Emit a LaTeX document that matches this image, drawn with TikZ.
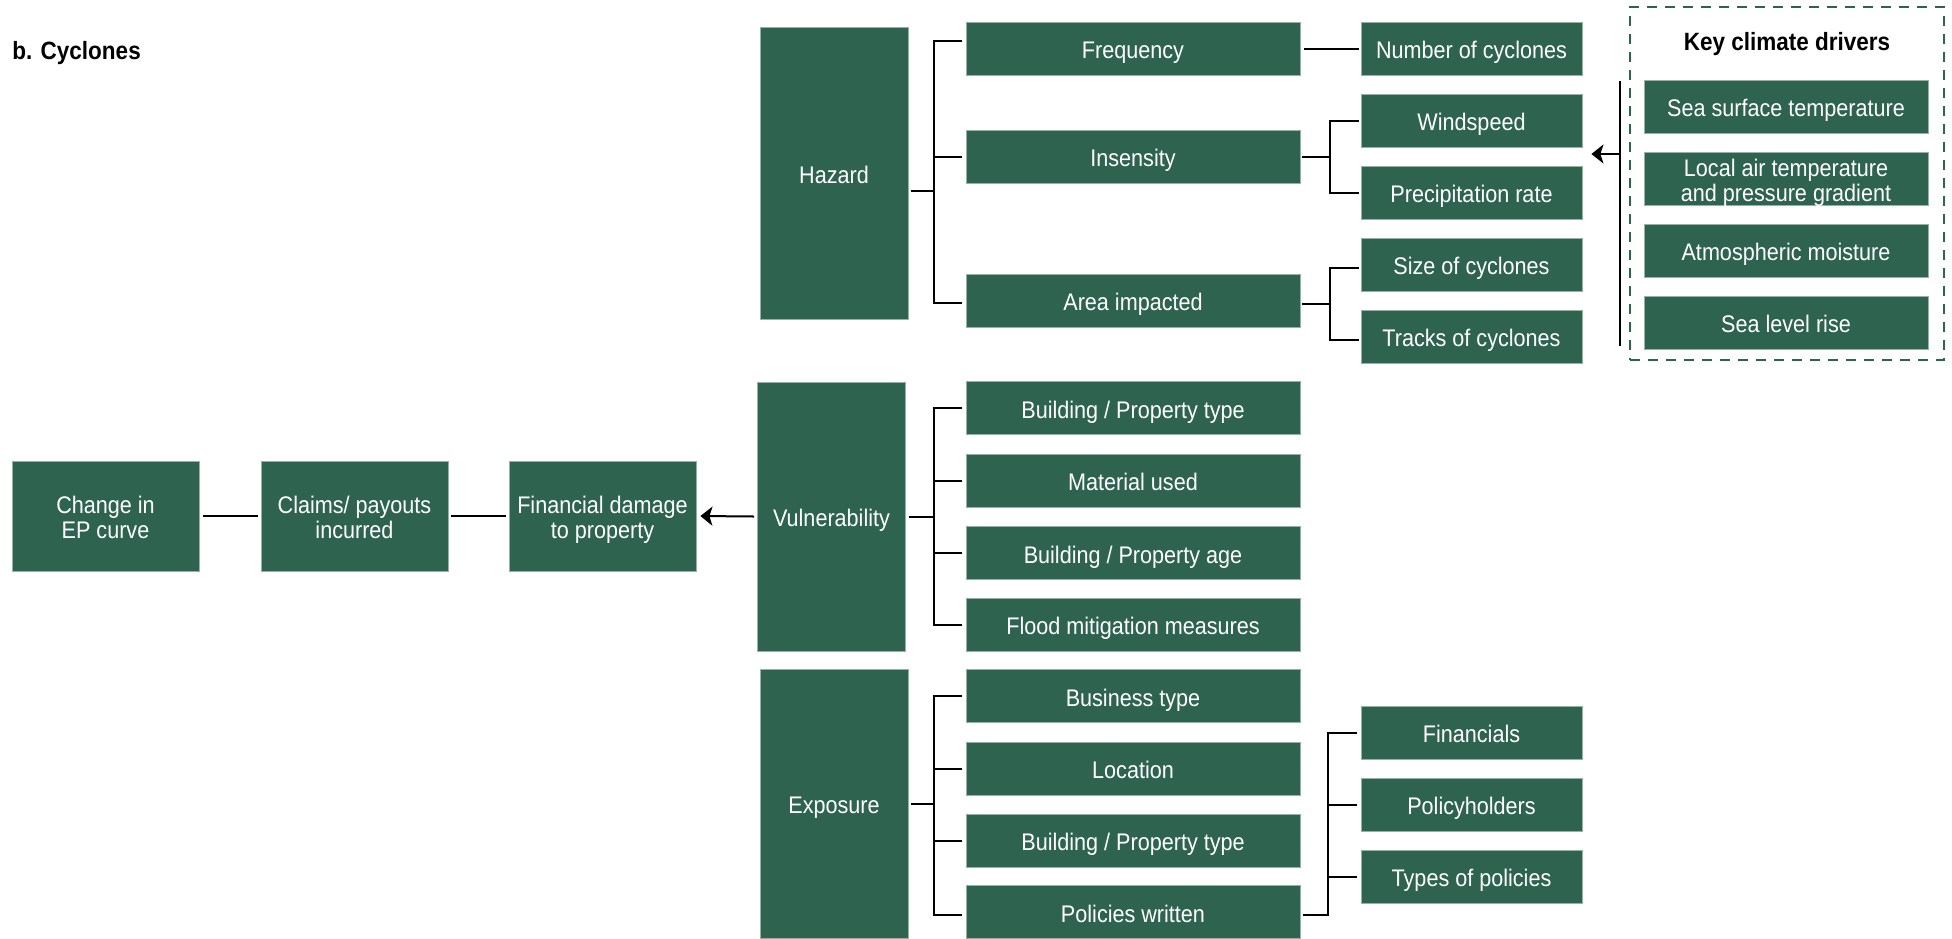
\documentclass[tikz,border=0pt]{standalone}
\usepackage{fontspec}
\setmainfont{Liberation Sans}[FakeStretch=0.9]
\usetikzlibrary{calc,arrows.meta}
\definecolor{boxgreen}{RGB}{46,99,80}
\definecolor{boxedge}{RGB}{150,178,164}
\begin{document}
\begin{tikzpicture}[x=0.5pt,y=-0.5pt,
  box/.style={fill=boxgreen, draw=boxedge, line width=0.4pt, text=white, font=\fontsize{12}{12.4}\selectfont, align=center, inner sep=0pt, minimum height=26.5pt, text height=10pt, text depth=0pt},
  twoline/.style={text height=22.2pt, text depth=0pt},
  lvtwo/.style={box, minimum width=167pt},
  lvthree/.style={box, minimum width=110.5pt},
  drv/.style={box, minimum width=142pt},
  big/.style={box, minimum width=74pt},
  chain/.style={box, twoline, minimum width=93.5pt, minimum height=55pt},
  conn/.style={draw=black, line width=1pt},
  arr/.style={conn, -{Stealth[length=6pt,width=9.5pt,inset=1.5pt]}},
  ttl/.style={font=\bfseries\fontsize{12.5}{14}\selectfont, inner sep=0pt, text height=9pt, text depth=0pt}
]
\useasboundingbox (0,0) rectangle (1952,938);

% title
\node[ttl, anchor=west] (title) at (12,50) {b. Cyclones};

% hazard branch
\node[big, minimum height=146pt] (hazard) at (834,173) {Hazard};
\node[lvtwo] (freq) at (1133,48.5) {Frequency};
\node[lvthree] (ncyc) at (1471.5,48.5) {Number of cyclones};
\node[lvtwo] (ins) at (1133,156.5) {Insensity};
\node[lvthree] (wind) at (1471.5,120.5) {Windspeed};
\node[lvthree] (prec) at (1471.5,192.5) {Precipitation rate};
\node[lvtwo] (area) at (1133,300.5) {Area impacted};
\node[lvthree] (sizec) at (1471.5,264.5) {Size of cyclones};
\node[lvthree] (tracks) at (1471.5,336.5) {Tracks of cyclones};

\draw[conn] ($(hazard.east)+(3,18)$) -| ($(freq.west)+(-32,-7.5)$) -- ($(freq.west)+(-4,-7.5)$);
\draw[conn] ($(hazard.east)+(3,18)$) -| ($(area.west)+(-32,2.5)$) -- ($(area.west)+(-4,2.5)$);
\draw[conn] ($(ins.west)+(-32,0)$) -- ($(ins.west)+(-4,0)$);
\draw[conn] ($(freq.east)+(4,0)$) -- ($(ncyc.west)+(-2,0)$);
\draw[conn] ($(ins.east)+(2,0)$) -| ($(wind.west)+(-31,0)$) -- ($(wind.west)+(-2,0)$);
\draw[conn] ($(ins.east)+(2,0)$) -| ($(prec.west)+(-31,0)$) -- ($(prec.west)+(-2,0)$);
\draw[conn] ($(area.east)+(2,3)$) -| ($(sizec.west)+(-31,3)$) -- ($(sizec.west)+(-2,3)$);
\draw[conn] ($(area.east)+(2,3)$) -| ($(tracks.west)+(-31,3)$) -- ($(tracks.west)+(-2,3)$);

% key climate drivers
\node[draw=boxgreen, dash pattern=on 5pt off 4pt, line width=1pt, minimum width=157pt, minimum height=176.5pt, inner sep=0pt] (kframe) at (1787,183.5) {};
\node[ttl] (ktitle) at (1787,41) {Key climate drivers};
\node[drv] (d1) at (1786,106.5) {Sea surface temperature};
\node[drv, twoline] (d2) at (1786,179) {Local air temperature\\and pressure gradient};
\node[drv] (d3) at (1786,250.5) {Atmospheric moisture};
\node[drv] (d4) at (1786,322.5) {Sea level rise};
\coordinate (dtop) at (1620,81);
\coordinate (dbot) at (1620,346);
\coordinate (dmid) at (1620,154);
\draw[conn] (dtop) -- (dbot);
\draw[arr] (dmid) -- ($(wind.east |- dmid)+(9,0)$);

% left chain
\node[chain] (ep) at (105.5,516) {Change in\\EP curve};
\node[chain] (claims) at (354.5,516) {Claims/ payouts\\incurred};
\node[chain] (fin) at (602.5,516) {Financial damage\\to property};
\draw[conn] ($(ep.east)+(4,0)$) -- ($(claims.west)+(-3,0)$);
\draw[conn] ($(claims.east)+(3,0)$) -- ($(fin.west)+(-3,0)$);

% vulnerability branch
\node[big, minimum height=134.5pt] (vuln) at (831.5,516.5) {Vulnerability};
\draw[arr] ($(vuln.west)+(-3,0)$) -- ($(fin.east)+(4,0)$);
\node[lvtwo] (v1) at (1133,408) {Building / Property type};
\node[lvtwo] (v2) at (1133,480.5) {Material used};
\node[lvtwo] (v3) at (1133,553) {Building / Property age};
\node[lvtwo] (v4) at (1133,624.5) {Flood mitigation measures};
\draw[conn] ($(vuln.east)+(3,0)$) -| ($(v1.west)+(-32,0)$) -- ($(v1.west)+(-4,0)$);
\draw[conn] ($(vuln.east)+(3,0)$) -| ($(v4.west)+(-32,0)$) -- ($(v4.west)+(-4,0)$);
\draw[conn] ($(v2.west)+(-32,0)$) -- ($(v2.west)+(-4,0)$);
\draw[conn] ($(v3.west)+(-32,0)$) -- ($(v3.west)+(-4,0)$);

% exposure branch
\node[big, minimum height=134.5pt] (expo) at (834,803.5) {Exposure};
\node[lvtwo] (e1) at (1133,696) {Business type};
\node[lvtwo] (e2) at (1133,768.5) {Location};
\node[lvtwo] (e3) at (1133,840.5) {Building / Property type};
\node[lvtwo] (e4) at (1133,912) {Policies written};
\draw[conn] ($(expo.east)+(3,0)$) -| ($(e1.west)+(-32,0)$) -- ($(e1.west)+(-4,0)$);
\draw[conn] ($(expo.east)+(3,0)$) -| ($(e4.west)+(-32,3)$) -- ($(e4.west)+(-4,3)$);
\draw[conn] ($(e2.west)+(-32,0)$) -- ($(e2.west)+(-4,0)$);
\draw[conn] ($(e3.west)+(-32,0)$) -- ($(e3.west)+(-4,0)$);

\node[lvthree] (f1) at (1471.5,732.5) {Financials};
\node[lvthree] (f2) at (1471.5,804.5) {Policyholders};
\node[lvthree] (f3) at (1471.5,876.5) {Types of policies};
\draw[conn] ($(e4.east)+(3,3)$) -| ($(f1.west)+(-33,0)$) -- ($(f1.west)+(-4,0)$);
\draw[conn] ($(f2.west)+(-33,0)$) -- ($(f2.west)+(-4,0)$);
\draw[conn] ($(f3.west)+(-33,0)$) -- ($(f3.west)+(-4,0)$);
\end{tikzpicture}
\end{document}
